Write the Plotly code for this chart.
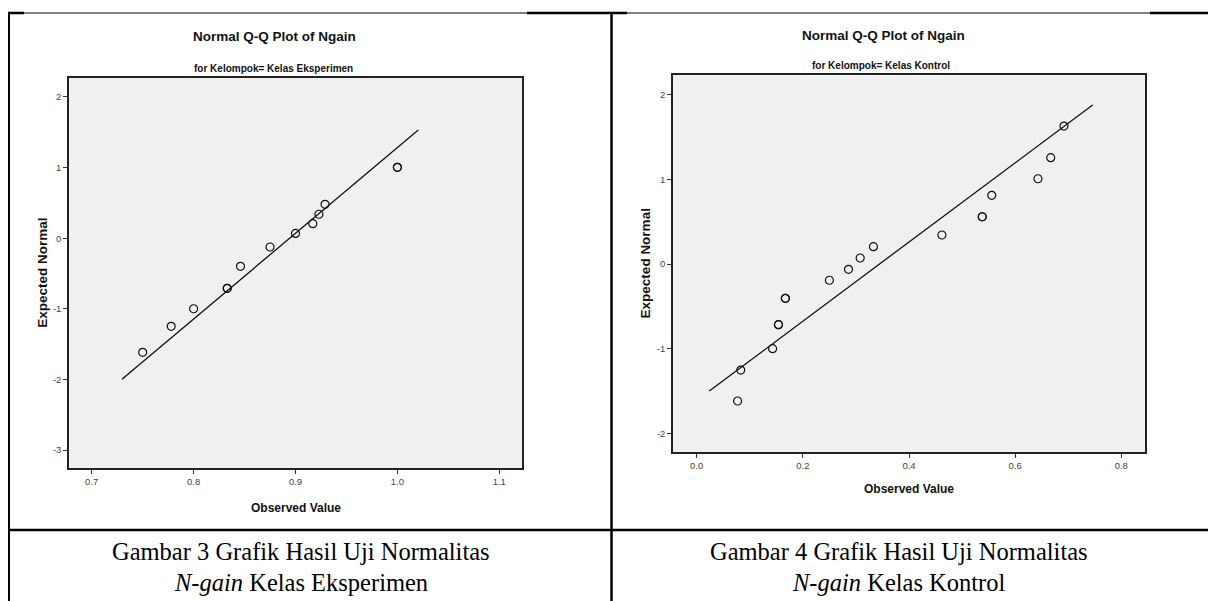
import plotly.graph_objects as go

W, H = 1208, 601

# ---------------- data ----------------
# Left: Kelas Eksperimen
eks_observed = [0.750, 0.778, 0.800, 0.833, 0.833, 0.846, 0.875, 0.900, 0.917, 0.923, 0.929, 1.000, 1.000]
eks_expected = [-1.616, -1.248, -0.999, -0.710, -0.710, -0.398, -0.125, 0.067, 0.205, 0.339, 0.480, 1.004, 1.004]
eks_line_x = [0.7297, 1.0205]
eks_line_y = [-1.999, 1.533]
eks_xticks = [0.7, 0.8, 0.9, 1.0, 1.1]
eks_xticktext = ["0.7", "0.8", "0.9", "1.0", "1.1"]
eks_yticks = [-3, -2, -1, 0, 1, 2]
eks_yticktext = ["-3", "-2", "-1", "0", "1", "2"]

# Right: Kelas Kontrol
kon_observed = [0.077, 0.083, 0.143, 0.154, 0.154, 0.167, 0.167, 0.250, 0.286, 0.308, 0.333,
                0.462, 0.538, 0.538, 0.556, 0.643, 0.667, 0.692]
kon_expected = [-1.618, -1.252, -1.000, -0.716, -0.716, -0.404, -0.404, -0.191, -0.061, 0.072, 0.206,
                0.344, 0.560, 0.560, 0.813, 1.009, 1.258, 1.632]
kon_line_x = [0.0237, 0.7461]
kon_line_y = [-1.500, 1.881]
kon_xticks = [0.0, 0.2, 0.4, 0.6, 0.8]
kon_xticktext = ["0.0", "0.2", "0.4", "0.6", "0.8"]
kon_yticks = [-2, -1, 0, 1, 2]
kon_yticktext = ["-2", "-1", "0", "1", "2"]

title_text = "Normal Q-Q Plot of Ngain"
sub_left = "for Kelompok= Kelas Eksperimen"
sub_right = "for Kelompok= Kelas Kontrol"
cap_left = ["Gambar 3 Grafik Hasil Uji Normalitas", "<i>N-gain</i> Kelas Eksperimen"]
cap_right = ["Gambar 4 Grafik Hasil Uji Normalitas", "<i>N-gain</i> Kelas Kontrol"]

# ---------------- helpers ----------------
def fx(x):
    return x / W

def fy(y):
    return 1 - y / H

SANS = "Liberation Sans, Arial, sans-serif"
SERIF = "Liberation Serif, Times New Roman, serif"

fig = go.Figure()

marker = dict(symbol="circle-open", size=8, color="#111", line=dict(width=1.2, color="#111"))

fig.add_trace(go.Scatter(x=eks_line_x, y=eks_line_y, mode="lines",
                         line=dict(color="#111", width=1.3), xaxis="x", yaxis="y", showlegend=False))
fig.add_trace(go.Scatter(x=eks_observed, y=eks_expected, mode="markers",
                         marker=marker, xaxis="x", yaxis="y", showlegend=False))
fig.add_trace(go.Scatter(x=kon_line_x, y=kon_line_y, mode="lines",
                         line=dict(color="#111", width=1.3), xaxis="x2", yaxis="y2", showlegend=False))
fig.add_trace(go.Scatter(x=kon_observed, y=kon_expected, mode="markers",
                         marker=marker, xaxis="x2", yaxis="y2", showlegend=False))

axis_common = dict(showgrid=False, zeroline=False, showline=True, mirror=True,
                   linecolor="#222", linewidth=1.5, ticks="outside", ticklen=4,
                   tickwidth=1, tickcolor="#333",
                   tickfont=dict(family=SANS, size=9.5, color="#444"))

fig.update_layout(
    width=W, height=H,
    margin=dict(l=0, r=0, t=0, b=0),
    paper_bgcolor="white",
    plot_bgcolor="#F0F0F0",
    showlegend=False,
    xaxis=dict(domain=[fx(69), fx(522.3)], range=[0.6777, 1.1226], anchor="y",
               tickvals=eks_xticks, ticktext=eks_xticktext, **axis_common),
    yaxis=dict(domain=[fy(468.3), fy(77.7)], range=[-3.259, 2.273], anchor="x",
               tickvals=eks_yticks, ticktext=eks_yticktext, **axis_common),
    xaxis2=dict(domain=[fx(673), fx(1145)], range=[-0.0447, 0.8447], anchor="y2",
                tickvals=kon_xticks, ticktext=kon_xticktext, **axis_common),
    yaxis2=dict(domain=[fy(452), fy(75.3)], range=[-2.221, 2.232], anchor="x2",
                tickvals=kon_yticks, ticktext=kon_yticktext, **axis_common),
)

ann = []

def add_text(text, x, y, size, family, bold=False, color="#111", angle=0):
    t = f"<b>{text}</b>" if bold else text
    ann.append(dict(text=t, x=fx(x), y=fy(y), xref="paper", yref="paper",
                    xanchor="center", yanchor="middle", showarrow=False,
                    textangle=angle, font=dict(family=family, size=size, color=color)))

# chart titles
add_text(title_text, 274, 37, 13.5, SANS, bold=True)
add_text(sub_left, 273, 68, 10, SANS, bold=True)
add_text(title_text, 883, 36, 13.5, SANS, bold=True)
add_text(sub_right, 881, 65, 10, SANS, bold=True)

# axis titles
add_text("Observed Value", 295.6, 508, 12, SANS, bold=True)
add_text("Observed Value", 909, 489, 12, SANS, bold=True)
add_text("Expected Normal", 41.7, 273, 13.5, SANS, bold=True, angle=-90)
add_text("Expected Normal", 645.7, 263.7, 13.5, SANS, bold=True, angle=-90)

# captions
add_text(cap_left[0], 301, 551, 24.5, SERIF, color="#000")
add_text(cap_left[1], 301, 582, 24.5, SERIF, color="#000")
add_text(cap_right[0], 899, 551, 24.5, SERIF, color="#000")
add_text(cap_right[1], 899, 582, 24.5, SERIF, color="#000")

fig.update_layout(annotations=ann)

# table borders
shapes = []

def hline(x0, x1, y, w):
    shapes.append(dict(type="line", xref="paper", yref="paper", x0=fx(x0), x1=fx(x1),
                       y0=fy(y), y1=fy(y), line=dict(color="black", width=w)))

def vline(x, y0, y1, w):
    shapes.append(dict(type="line", xref="paper", yref="paper", x0=fx(x), x1=fx(x),
                       y0=fy(y0), y1=fy(y1), line=dict(color="black", width=w)))

hline(8, 1208, 13, 1)
hline(8, 24, 13, 2.5)
hline(527, 627, 13, 2.5)
hline(1150, 1208, 13, 2.5)
vline(9, 12, 601, 2)
vline(611.5, 12, 601, 2.5)
hline(9, 1208, 530, 2.5)

fig.update_layout(shapes=shapes)

fig.write_html("out.html", config={"displayModeBar": False},
               post_script="document.body.style.margin='0px';document.body.style.overflow='hidden';")
